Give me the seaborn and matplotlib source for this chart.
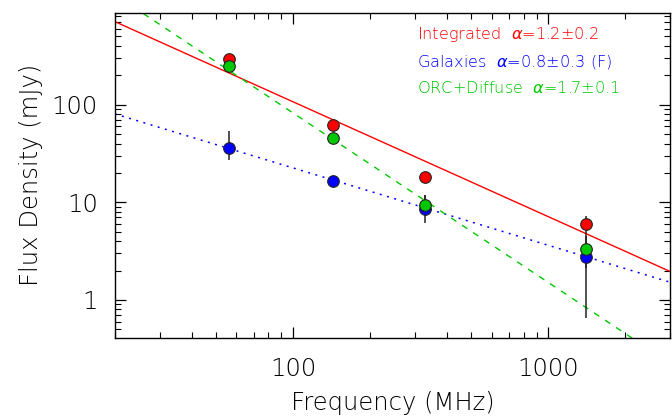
import numpy as np
import pandas as pd
import seaborn as sns
import matplotlib.pyplot as plt
from matplotlib.ticker import LogLocator, FuncFormatter, NullFormatter

# measured flux densities (mJy) at each frequency (MHz)
freq = [56, 144, 329, 1400]
integrated = [292, 62.4, 18.0, 6.05]
integrated_err = [20, 4, 1.5, 1.15]
galaxies = [36.3, 16.7, 8.6, 2.74]
galaxies_err_lo = [9.1, 1.2, 2.4, 2.09]
galaxies_err_hi = [17.5, 1.2, 3.2, 2.09]
orc_diffuse = [247, 45.9, 9.5, 3.33]
orc_err = [15, 3, 2.3, 1.2]

# power-law fits: S = S100 * (nu/100)^-alpha
fit_s100 = [107, 22.5, 82.2]
fit_alpha = [1.176, 0.792, 1.735]

labels = ['Integrated  $\\alpha$=1.2±0.2',
          'Galaxies  $\\alpha$=0.8±0.3 (F)',
          'ORC+Diffuse  $\\alpha$=1.7±0.1']
colors = ['#ff0000', '#0000ff', '#00c800']

xlim = (20, 3000)
ylim = (0.408, 875)

sns.set_style('ticks')
plt.rcParams['font.family'] = ['DejaVu Sans']
plt.rcParams['mathtext.fontset'] = 'custom'
plt.rcParams['mathtext.rm'] = 'DejaVu Sans:light'
plt.rcParams['mathtext.it'] = 'DejaVu Sans:italic:light'

fig = plt.figure(figsize=(6.72, 4.16), dpi=100)
ax = fig.add_axes([0.1707, 0.1875, 0.997 - 0.1707, 0.9695 - 0.1875])
ax.set_xscale('log')
ax.set_yscale('log')

# fit lines
nu = np.geomspace(xlim[0], xlim[1], 50)
styles = [(None, 1.0), ((1.3, 3.6), 1.1), ((4.5, 5.0), 1.0)]
for s100, a, c, (dash, lw) in zip(fit_s100, fit_alpha, colors, styles):
    fit = pd.DataFrame({'nu': nu, 'S': s100 * (nu / 100.0) ** (-a)})
    sns.lineplot(data=fit, x='nu', y='S', color=c, lw=lw, ax=ax, zorder=1)
    if dash is not None:
        ax.lines[-1].set_dashes(dash)

# error bars
ax.errorbar(freq, integrated, yerr=integrated_err, fmt='none', ecolor='#222222', elinewidth=1.1, zorder=2)
ax.errorbar(freq, galaxies, yerr=[galaxies_err_lo, galaxies_err_hi], fmt='none', ecolor='#222222', elinewidth=1.1, zorder=2)
ax.errorbar(freq, orc_diffuse, yerr=orc_err, fmt='none', ecolor='#222222', elinewidth=1.1, zorder=2)

# points
pts = pd.DataFrame({'freq': freq * 3,
                    'flux': integrated + galaxies + orc_diffuse,
                    'set': ['int'] * 4 + ['gal'] * 4 + ['orc'] * 4})
for key, c in zip(['int', 'gal', 'orc'], colors):
    sns.scatterplot(data=pts[pts['set'] == key], x='freq', y='flux', color=c, s=70,
                    edgecolor='#222222', linewidth=0.8, ax=ax, zorder=3)

ax.set_xlim(*xlim)
ax.set_ylim(*ylim)

for sp in ax.spines.values():
    sp.set_visible(True)
    sp.set_linewidth(1.0)
    sp.set_color('black')

ax.tick_params(which='both', direction='in', top=True, right=True, colors='black',
               labelsize=17.5)
ax.tick_params(which='major', length=8, width=0.9, pad=12)
ax.tick_params(which='minor', length=4.3, width=0.8)
ax.tick_params(axis='x', which='major', pad=14)
fmt = FuncFormatter(lambda v, p: '%g' % v)
ax.xaxis.set_major_formatter(fmt)
ax.yaxis.set_major_formatter(fmt)
ax.xaxis.set_minor_formatter(NullFormatter())
ax.yaxis.set_minor_formatter(NullFormatter())
ax.yaxis.set_minor_locator(LogLocator(base=10, subs=np.arange(2, 10), numticks=20))
ax.xaxis.set_minor_locator(LogLocator(base=10, subs=np.arange(2, 10), numticks=20))
for t in ax.get_xticklabels() + ax.get_yticklabels():
    t.set_fontweight('light')

ax.set_xlabel('Frequency (MHz)', fontsize=17.5, fontweight='light', color='black')
ax.set_ylabel('Flux Density (mJy)', fontsize=17.5, fontweight='light', color='black')
ax.xaxis.set_label_coords(0.5, -0.162)
ax.yaxis.set_label_coords(-0.13, 0.5)

for lab, c, y in zip(labels, colors, [0.934, 0.848, 0.769]):
    ax.text(0.544, y, lab, color=c, fontsize=11.6, transform=ax.transAxes,
            ha='left', va='center', fontweight='light')

fig.savefig('out.png', dpi=100)
